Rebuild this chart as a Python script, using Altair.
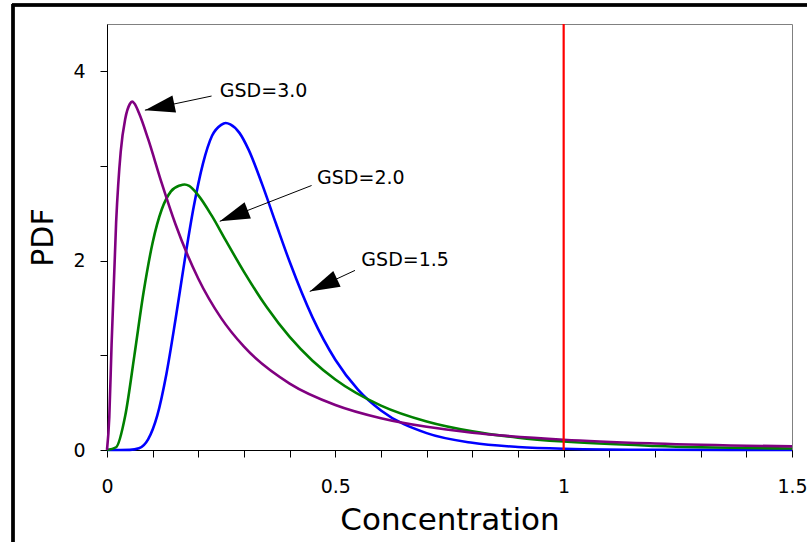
import math
import altair as alt
import pandas as pd

# ---- data ----
# GSD = 1.5 (blue)
x_gsd15 = [0, 0.03, 0.05, 0.07, 0.09, 0.11, 0.13, 0.15, 0.17, 0.19, 0.21, 0.23, 0.25, 0.26,
           0.27, 0.29, 0.31, 0.34, 0.37, 0.40, 0.45, 0.50, 0.55, 0.60, 0.70, 0.80, 0.90,
           1.00, 1.20, 1.50]
y_gsd15 = [0, 0, 0.001, 0.018, 0.112, 0.363, 0.801, 1.378, 2.000, 2.571, 3.022, 3.319, 3.435,
           3.455, 3.440, 3.350, 3.173, 2.803, 2.392, 1.988, 1.401, 0.954, 0.636, 0.418,
           0.178, 0.076, 0.032, 0.014, 0.003, 0.0003]

# GSD = 2.0 (green)
x_gsd20 = [0, 0.02, 0.04, 0.06, 0.08, 0.10, 0.12, 0.14, 0.16, 0.17, 0.18, 0.20, 0.23, 0.26,
           0.30, 0.35, 0.40, 0.45, 0.50, 0.60, 0.70, 0.80, 0.90, 1.00, 1.20, 1.50]
y_gsd20 = [0, 0.029, 0.364, 1.000, 1.663, 2.192, 2.543, 2.732, 2.795, 2.805, 2.790, 2.690,
           2.470, 2.214, 1.882, 1.507, 1.194, 0.943, 0.745, 0.469, 0.301, 0.197, 0.131,
           0.089, 0.043, 0.016]

# GSD = 3.0 (purple)
x_gsd30 = [0, 0.005, 0.01, 0.02, 0.03, 0.04, 0.05, 0.055, 0.06, 0.07, 0.09, 0.12, 0.15, 0.20,
           0.25, 0.30, 0.40, 0.50, 0.60, 0.70, 0.80, 1.00, 1.20, 1.50]
y_gsd30 = [0, 0.344, 1.110, 2.407, 3.150, 3.500, 3.655, 3.680, 3.660, 3.560, 3.286, 2.816,
           2.384, 1.809, 1.393, 1.091, 0.702, 0.476, 0.336, 0.245, 0.183, 0.109, 0.069,
           0.038]

# reference line
limit_x = [1.0]

# annotations
ann_text = ["GSD=3.0", "GSD=2.0", "GSD=1.5"]
ann_text_x = [0.247, 0.460, 0.557]
ann_text_y = [3.79, 2.875, 2.01]
ann_tail_x = [0.229, 0.448, 0.543]
ann_tail_y = [3.739, 2.794, 1.897]
ann_tip_x = [0.083, 0.247, 0.444]
ann_tip_y = [3.590, 2.416, 1.675]

# axis ticks
x_ticks = [0, 0.1, 0.2, 0.3, 0.4, 0.5, 0.6, 0.7, 0.8, 0.9, 1.0, 1.1, 1.2, 1.3, 1.4, 1.5]
y_ticks = [0, 1, 2, 3, 4]

# ---- layout ----
W, H = 685, 426
X_MAX, Y_MAX = 1.5, 4.5
FONT = "DejaVu Sans"

kx = W / X_MAX
ky = H / Y_MAX
angles = [math.degrees(math.atan2(-(ty - sy) * ky, (tx - sx) * kx))
          for tx, ty, sx, sy in zip(ann_tip_x, ann_tip_y, ann_tail_x, ann_tail_y)]

ann = pd.DataFrame({
    "label": ann_text, "lx": ann_text_x, "ly": ann_text_y,
    "sx": ann_tail_x, "sy": ann_tail_y, "tx": ann_tip_x, "ty": ann_tip_y,
    "angle": angles,
})

xscale = alt.Scale(domain=[0, X_MAX], nice=False, zero=False)
yscale = alt.Scale(domain=[0, Y_MAX], nice=False, zero=False)

x_axis = alt.Axis(
    values=x_ticks, format=".1~f",
    labelExpr="(round(datum.value*10) % 5 == 0) ? datum.label : ''",
    tickSize=7, labelPadding=35, labelBaseline="alphabetic", labelFontSize=19,
    labelFlush=False, labelOverlap=False, grid=False,
    title="Concentration", titleFontSize=31, titleY=79, titleBaseline="alphabetic",
)
y_axis = alt.Axis(
    values=y_ticks, format="d",
    labelExpr="(datum.value % 2 == 0) ? datum.label : ''",
    tickSize=7, labelPadding=15, labelFontSize=19, labelOverlap=False, grid=False,
    title="PDF", titleFontSize=30, titleX=-55, titleY=213, titleBaseline="alphabetic",
)


def X(field):
    return alt.X(field, type="quantitative", scale=xscale, axis=x_axis)


def Y(field):
    return alt.Y(field, type="quantitative", scale=yscale, axis=y_axis)


def curve(xs, ys, color):
    df = pd.DataFrame({"x": xs, "y": ys})
    return alt.Chart(df).mark_line(color=color, strokeWidth=2.6, interpolate="monotone").encode(
        x=X("x"), y=Y("y"),
    )


blue = curve(x_gsd15, y_gsd15, "#0000FF")
green = curve(x_gsd20, y_gsd20, "#008000")
purple = curve(x_gsd30, y_gsd30, "#800080")

red = alt.Chart(pd.DataFrame({"x": limit_x})).mark_rule(color="#FF0000", strokeWidth=2.2).encode(
    x=X("x")
)

shafts = alt.Chart(ann).mark_rule(color="black", strokeWidth=1).encode(
    x=X("sx"), y=Y("sy"), x2="tx:Q", y2="ty:Q",
)
heads = alt.Chart(ann).mark_point(
    shape="M0,0L-1,-0.29L-1,0.29Z", filled=True, color="black", opacity=1,
    size=3600, strokeWidth=0,
).encode(
    x=X("tx"), y=Y("ty"),
    angle=alt.Angle("angle:Q", scale=None),
)
labels = alt.Chart(ann).mark_text(
    align="left", baseline="middle", fontSize=19, font=FONT, color="black"
).encode(
    x=X("lx"), y=Y("ly"), text="label:N"
)

# outer frame (top and left edges of the picture border)
frame_top = alt.Chart(ann).mark_rule(color="black", strokeWidth=3).encode(
    x=alt.value(-95), x2=alt.value(700), y=alt.value(-19)
)
frame_left = alt.Chart(ann).mark_rule(color="black", strokeWidth=3).encode(
    x=alt.value(-94), y=alt.value(-20), y2=alt.value(518)
)

chart = alt.layer(
    blue, green, purple, red, shafts, heads, labels, frame_top, frame_left
).properties(
    width=W, height=H,
    autosize=alt.AutoSizeParams(type="none"),
    padding={"left": 107, "top": 24, "right": 15, "bottom": 92},
    background="white",
).configure_view(
    stroke="#808080", strokeWidth=1
).configure_axis(
    domainColor="black", tickColor="black", labelColor="black", titleColor="black",
    labelFont=FONT, titleFont=FONT, titleFontWeight="normal", domainWidth=1, tickWidth=1,
)

chart.save("out.html", embed_options={"renderer": "svg", "actions": False})
